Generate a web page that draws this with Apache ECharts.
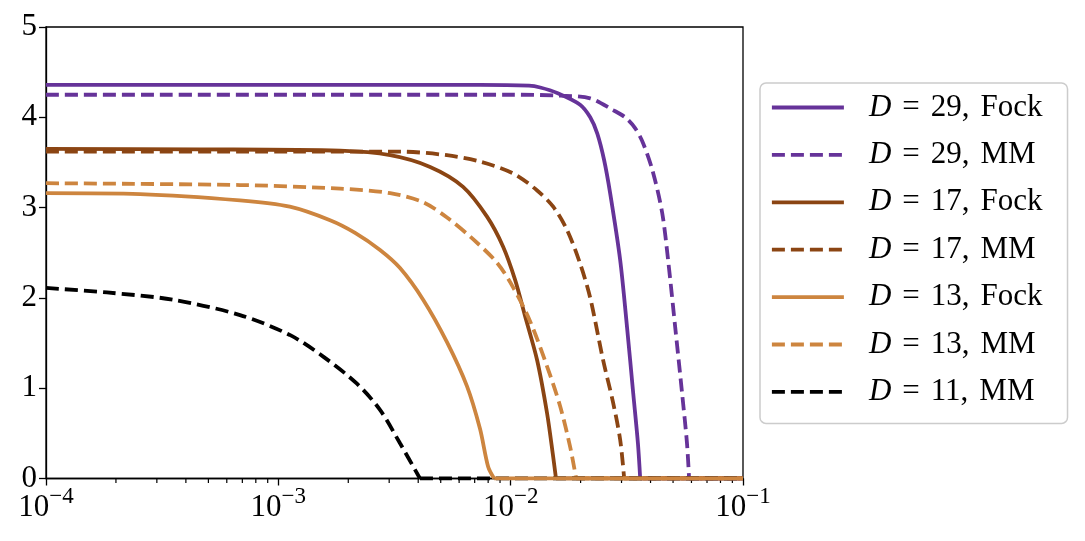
<!DOCTYPE html>
<html>
<head>
<meta charset="utf-8">
<script src="https://cdn.jsdelivr.net/npm/echarts@6/dist/echarts.min.js"></script>
<style>
  html, body { margin: 0; padding: 0; background: #fff; }
  #chart { width: 1085px; height: 541px; }
</style>
</head>
<body>
<div id="chart"></div>
<script>
// values, x on a log axis; each curve stays at 0 after its last point
var fock29X = [1e-4, 1e-3, 0.00738, 0.0120, 0.0134, 0.01585, 0.0199, 0.0220, 0.0236, 0.02523, 0.0268, 0.0296, 0.0317, 0.0337, 0.0353, 0.0361];
var fock29Y = [4.36, 4.36, 4.36, 4.35, 4.33, 4.27, 4.14, 4.00, 3.82, 3.53, 3.16, 2.42, 1.67, 0.94, 0.39, 0];

var mm29X = [1e-4, 0.01, 0.01633, 0.0220, 0.0276, 0.03109, 0.03432, 0.0372, 0.0410, 0.0449, 0.0476, 0.0511, 0.0547, 0.0574, 0.0586];
var mm29Y = [4.25, 4.25, 4.24, 4.21, 4.08, 4.00, 3.88, 3.71, 3.39, 2.94, 2.42, 1.67, 0.94, 0.39, 0];

var fock17X = [1e-4, 0.00046, 0.001845, 0.00303, 0.0045, 0.00624, 0.00791, 0.00927, 0.01045, 0.01153, 0.0130, 0.01435, 0.01524, 0.01567];
var fock17Y = [3.65, 3.645, 3.63, 3.58, 3.45, 3.23, 2.90, 2.57, 2.20, 1.80, 1.31, 0.72, 0.24, 0];

var mm17X = [1e-4, 0.001239, 0.00334, 0.00532, 0.00738, 0.01023, 0.0130, 0.01524, 0.0175, 0.0199, 0.0220, 0.0250, 0.0276, 0.0296, 0.0308];
var mm17Y = [3.62, 3.62, 3.62, 3.58, 3.51, 3.38, 3.19, 3.01, 2.75, 2.38, 2.00, 1.31, 0.84, 0.43, 0];

var fock13X = [1e-4, 0.000254, 0.000684, 0.00112, 0.00167, 0.00214, 0.00274, 0.00334, 0.0042, 0.00532, 0.00649, 0.00738, 0.0080, 0.00849];
var fock13Y = [3.16, 3.15, 3.08, 3.01, 2.86, 2.72, 2.53, 2.33, 1.98, 1.51, 1.02, 0.55, 0.13, 0];

var mm13X = [1e-4, 0.000684, 0.001845, 0.00303, 0.0042, 0.00532, 0.00689, 0.00873, 0.01023, 0.01213, 0.01435, 0.01633, 0.01803, 0.01914];
var mm13Y = [3.27, 3.25, 3.21, 3.16, 3.06, 2.89, 2.65, 2.39, 2.12, 1.74, 1.24, 0.80, 0.35, 0];

var mm11X = [1e-4, 0.000183, 0.000352, 0.000684, 0.00112, 0.00156, 0.00218, 0.00274, 0.00334, 0.00407];
var mm11Y = [2.11, 2.06, 1.98, 1.81, 1.59, 1.35, 1.05, 0.76, 0.39, 0];

var names = ['D = 29, Fock', 'D = 29, MM', 'D = 17, Fock', 'D = 17, MM', 'D = 13, Fock', 'D = 13, MM', 'D = 11, MM'];
var colors = ['#663399', '#663399', '#8b4513', '#8b4513', '#cd853f', '#cd853f', '#000000'];
var dashed = [false, true, false, true, false, true, true];
var seriesX = [fock29X, mm29X, fock17X, mm17X, fock13X, mm13X, mm11X];
var seriesY = [fock29Y, mm29Y, fock17Y, mm17Y, fock13Y, mm13Y, mm11Y];

var yTicks = [0, 1, 2, 3, 4, 5];
var xMin = 1e-4, xMax = 1e-1;

// minor ticks of the log axis: 2..9 in every decade
var minorTicks = [];
for (var d = -4; d < -1; d++) {
  for (var k = 2; k <= 9; k++) minorTicks.push([k * Math.pow(10, d), 0]);
}

var font = '"Liberation Serif", "DejaVu Serif", serif';
var fs = 31;

function pairs(xs, ys) {
  var out = [];
  for (var i = 0; i < xs.length; i++) out.push([xs[i], ys[i]]);
  return out;
}

var series = [];
for (var i = 0; i < names.length; i++) {
  var ls = { color: colors[i], width: 3.8, type: dashed[i] ? [13, 6] : 'solid' };
  var z = names[i] == 'D = 13, Fock' ? 4 : 3;
  series.push({
    name: names[i], type: 'line', data: pairs(seriesX[i], seriesY[i]),
    symbol: 'none', smooth: 0.3, z: z, color: colors[i], lineStyle: ls
  });
  // flat part at zero up to the right edge
  var xs = seriesX[i];
  series.push({
    name: names[i] + ' tail', type: 'line', data: [[xs[xs.length - 1], 0], [xMax, 0]],
    symbol: 'none', z: z, color: colors[i], lineStyle: ls, silent: true
  });
}
series.push({
  type: 'custom',
  silent: true,
  clip: false,
  data: minorTicks,
  renderItem: function (params, api) {
    var p = api.coord([api.value(0), 0]);
    return { type: 'line', shape: { x1: p[0], y1: p[1], x2: p[0], y2: p[1] + 4.5 },
             style: { stroke: '#000', lineWidth: 1.2 } };
  }
});

var chart = echarts.init(document.getElementById('chart'), null, { renderer: 'canvas' });
chart.setOption({
  animation: false,
  backgroundColor: '#fff',
  grid: { left: 46, right: 342, top: 27, bottom: 62.5, show: true, borderColor: '#000', borderWidth: 1.3, backgroundColor: 'transparent' },
  xAxis: {
    type: 'log', logBase: 10, min: xMin, max: xMax,
    axisLine: { lineStyle: { color: '#000', width: 1.3 } },
    axisTick: { length: 7, lineStyle: { color: '#000', width: 1.3 } },
    splitLine: { show: false },
    axisLabel: {
      margin: 7,
      formatter: function (v) { return '{b|10}{s|\u2212' + Math.round(-Math.log10(v)) + '}'; },
      rich: {
        b: { fontFamily: font, fontSize: fs, color: '#000', lineHeight: 38, verticalAlign: 'bottom' },
        s: { fontFamily: font, fontSize: 23, color: '#000', lineHeight: 22, verticalAlign: 'top' }
      }
    }
  },
  yAxis: {
    type: 'value', min: 0, max: 5, interval: 1,
    axisLine: { show: true, lineStyle: { color: '#000', width: 1.3 } },
    axisTick: { show: true, length: 7, lineStyle: { color: '#000', width: 1.3 } },
    splitLine: { show: false },
    axisLabel: { margin: 9, fontFamily: font, fontSize: fs, color: '#000',
                 formatter: function (v) { return yTicks.indexOf(v) >= 0 ? String(v) : ''; } }
  },
  legend: {
    data: names,
    orient: 'vertical',
    left: 760, top: 83,
    padding: [8, 25, 15, 10],
    itemWidth: 72, itemHeight: 14, itemGap: 14.4,
    borderColor: '#cccccc', borderWidth: 1.5, borderRadius: 6,
    backgroundColor: '#fff',
    lineStyle: { width: 3.8 },
    itemStyle: { color: 'transparent', borderColor: 'transparent', borderWidth: 0, opacity: 0 },
    formatter: function (n) {
      var parts = n.slice(4).split(', ');
      return '{i|D}{e|=}' + parts[0] + ',{c|' + parts[1] + '}';
    },
    textStyle: {
      fontFamily: font, fontSize: fs, color: '#000', lineHeight: 33, padding: [0, 0, 0, 20],
      rich: {
        i: { fontFamily: font, fontSize: fs, fontStyle: 'italic', color: '#000', lineHeight: 33 },
        e: { fontFamily: font, fontSize: fs, color: '#000', lineHeight: 33, padding: [0, 11, 0, 11] },
        c: { fontFamily: font, fontSize: fs, color: '#000', lineHeight: 33, padding: [0, 0, 0, 11] }
      }
    }
  },
  series: series
});
</script>
</body>
</html>
